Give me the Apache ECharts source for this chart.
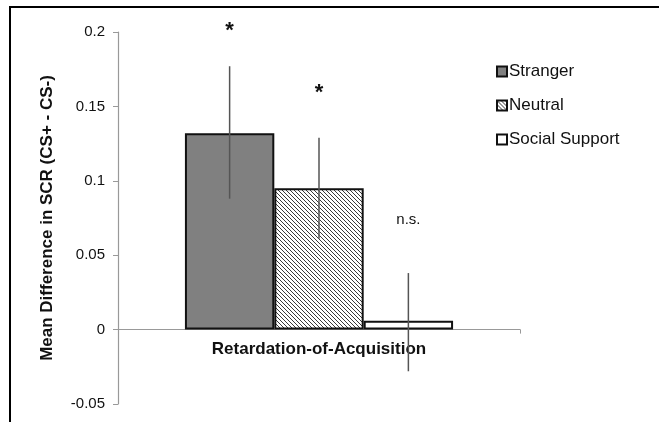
<!DOCTYPE html>
<html><head><meta charset="utf-8">
<script src="https://cdn.jsdelivr.net/npm/echarts@6/dist/echarts.min.js"></script>
<style>html,body{margin:0;padding:0;background:#fff}#c{width:659px;height:422px}</style>
</head><body><div id="c"></div>
<script>
const categories = ['Retardation-of-Acquisition'];
const seriesNames = ['Stranger', 'Neutral', 'Social Support'];
const means = [0.132, 0.095, 0.006];
const errLow = [0.088, 0.061, -0.028];
const errHigh = [0.177, 0.129, 0.038];
const sigLabels = ['*', '*', 'n.s.'];
const sigLabelY = [0.201, 0.159, 0.074];
const yTicks = { min: -0.05, max: 0.2, interval: 0.05 };

const gapPct = 0.333;

function hatch() {
  const c = document.createElement('canvas');
  c.width = 4; c.height = 4;
  const g = c.getContext('2d');
  g.fillStyle = '#fff'; g.fillRect(0, 0, 4, 4);
  g.strokeStyle = '#222'; g.lineWidth = 0.9;
  g.beginPath();
  g.moveTo(-1, -1); g.lineTo(5, 5);
  g.moveTo(-1, 3); g.lineTo(1, 5);
  g.moveTo(3, -1); g.lineTo(5, 1);
  g.stroke();
  return c;
}
const fills = ['#808080', { image: hatch(), repeat: 'repeat' }, '#ffffff'];

const chart = echarts.init(document.getElementById('c'), null, { renderer: 'canvas' });

const barSeries = seriesNames.map((n, i) => ({
  name: n, type: 'bar', data: [means[i]],
  barGap: '0%', barCategoryGap: (gapPct * 100) + '%',
  itemStyle: { color: fills[i], borderColor: '#111', borderWidth: 2 },
  emphasis: { disabled: true }
}));

function barCenter(api, cat, idx) {
  const p = api.coord([cat, 0]);
  const band = api.size([1, 0])[0];
  const bw = band * (1 - gapPct) / seriesNames.length;
  return p[0] + (idx - (seriesNames.length - 1) / 2) * bw;
}

const errData = seriesNames.map((n, i) => [0, errLow[i], errHigh[i], i]);
const sigData = seriesNames.map((n, i) => [0, sigLabelY[i], i]);

chart.setOption({
  animation: false,
  backgroundColor: '#fff',
  textStyle: { fontFamily: 'Liberation Sans, Arial, sans-serif' },
  grid: { left: 118, right: 139, top: 32, bottom: 18, containLabel: false, outerBoundsMode: 'none' },
  legend: {
    orient: 'vertical', left: 491, top: 58, itemWidth: 10, itemHeight: 10,
    itemGap: 17, icon: 'rect', data: seriesNames,
    textStyle: { fontSize: 17, color: '#111', padding: [0, 0, 0, -3] }
  },
  xAxis: {
    type: 'category', data: categories,
    axisLine: { onZero: true, lineStyle: { color: '#999', width: 1.2 } },
    axisTick: { show: true, length: 4, lineStyle: { color: '#999' } },
    axisLabel: { fontSize: 17, fontWeight: 'bold', color: '#111', margin: -63 }
  },
  yAxis: {
    type: 'value', min: yTicks.min, max: yTicks.max, interval: yTicks.interval,
    name: 'Mean Difference in SCR (CS+ - CS-)', nameLocation: 'middle', nameGap: 62,
    nameTextStyle: { fontSize: 17, fontWeight: 'bold', color: '#111' },
    axisLine: { show: true, lineStyle: { color: '#999', width: 1.2 } },
    axisTick: { show: true, length: 5, lineStyle: { color: '#999' } },
    axisLabel: { fontSize: 15, color: '#111', margin: 13 },
    splitLine: { show: false }
  },
  series: barSeries.concat([
    {
      type: 'custom', data: errData, z: 5, silent: true,
      renderItem: (params, api) => {
        const idx = api.value(3);
        const x = barCenter(api, api.value(0), idx);
        const y1 = api.coord([api.value(0), api.value(1)])[1];
        const y2 = api.coord([api.value(0), api.value(2)])[1];
        return { type: 'line', shape: { x1: x, y1: y1, x2: x, y2: y2 },
                 style: { stroke: '#555', lineWidth: 1.5 } };
      }
    },
    {
      type: 'custom', data: sigData, z: 6, silent: true, clip: false,
      renderItem: (params, api) => {
        const idx = api.value(2);
        const x = barCenter(api, api.value(0), idx);
        const y = api.coord([api.value(0), api.value(1)])[1];
        const t = sigLabels[idx];
        const star = t === '*';
        return { type: 'text', x: x, y: y,
                 style: { text: t, align: 'center', verticalAlign: 'middle',
                          font: star ? 'bold 22px Liberation Sans' : '15px Liberation Sans',
                          fill: '#111' } };
      }
    }
  ]),
  graphic: [{
    type: 'rect', shape: { x: 10, y: 7, width: 660, height: 430 },
    style: { fill: 'none', stroke: '#000', lineWidth: 2 }, z: 100, silent: true
  }]
});
</script></body></html>
